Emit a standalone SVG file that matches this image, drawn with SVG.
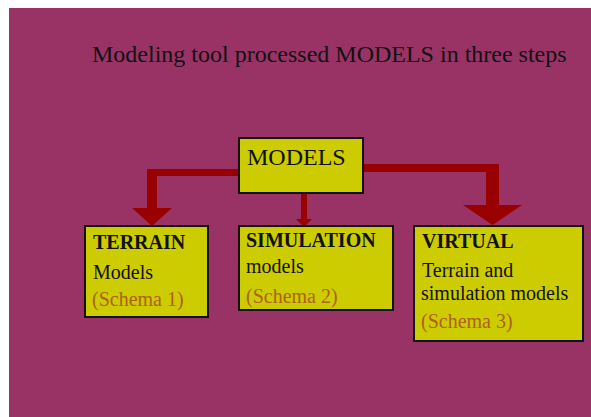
<svg xmlns="http://www.w3.org/2000/svg" width="591" height="417" viewBox="0 0 591 417">
<style>
.box{fill:#CCCC00;stroke:#111;stroke-width:2}
.t{font-family:"Liberation Serif","Times New Roman",serif;fill:#111}
.b{font-weight:bold}
.s{fill:#B0601E}
.arr{fill:#990000}
</style>
<rect x="0" y="0" width="591" height="417" fill="#ffffff"/>
<rect x="9" y="8" width="582" height="409" fill="#993366"/>
<text class="t" x="92" y="62" font-size="24">Modeling tool processed MODELS in three steps</text>
<g id="connectors">
<path class="arr" d="M240,169 L147,169 L147,208 L132,208 L152,226 L172,208 L157,208 L157,176 L240,176 Z"/>
<path class="arr" d="M301,193 L301,219 L296,219 L304,227 L312,219 L307,219 L307,193 Z"/>
<path class="arr" d="M363,164 L499,164 L499,205 L522,205 L492.5,225 L463,205 L486,205 L486,172 L363,172 Z"/>
</g>
<g id="models">
<rect class="box" x="239" y="138" width="124" height="55"/>
<text class="t" x="247" y="165" font-size="24">MODELS</text>
</g>
<g id="terrain">
<rect class="box" x="85" y="226" width="123" height="91"/>
<text class="t b" x="93" y="249" font-size="20">TERRAIN</text>
<text class="t" x="93" y="279" font-size="20">Models</text>
<text class="t s" x="92" y="306" font-size="20">(Schema 1)</text>
</g>
<g id="simulation">
<rect class="box" x="239" y="226" width="154" height="84"/>
<text class="t b" x="246" y="247" font-size="20">SIMULATION</text>
<text class="t" x="246" y="273" font-size="20">models</text>
<text class="t s" x="246" y="303" font-size="20">(Schema 2)</text>
</g>
<g id="virtual">
<rect class="box" x="414" y="226" width="169" height="115"/>
<text class="t b" x="422" y="248" font-size="20">VIRTUAL</text>
<text class="t" x="422" y="277" font-size="20">Terrain and</text>
<text class="t" x="421" y="300" font-size="20">simulation models</text>
<text class="t s" x="421" y="328" font-size="20">(Schema 3)</text>
</g>
</svg>
